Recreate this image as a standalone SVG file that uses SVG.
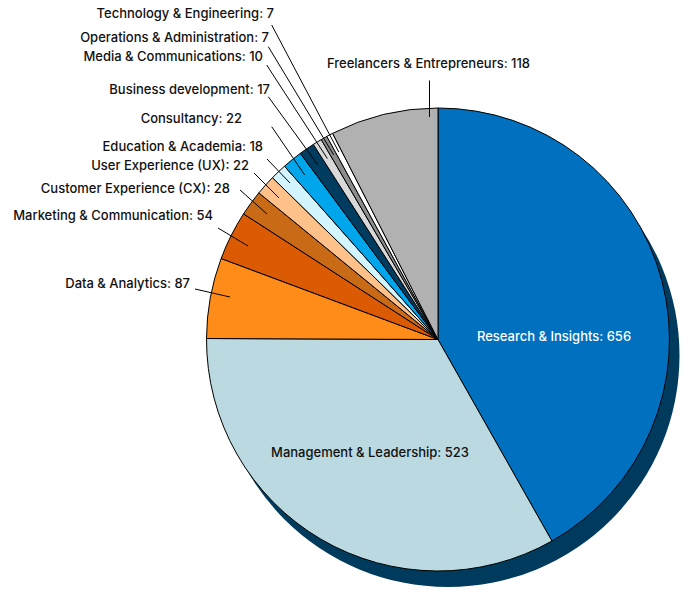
<svg xmlns="http://www.w3.org/2000/svg" width="689" height="589" viewBox="0 0 689 589">
<style>
.s{stroke:#000;stroke-width:1;stroke-linejoin:round}
.t{font-family:Inter,"Liberation Sans",sans-serif;font-size:13px;font-weight:500;fill:#111}
.e{text-anchor:end}
.m{text-anchor:middle}
.l{stroke:#000;stroke-width:1;fill:none}
</style>
<rect width="689" height="589" fill="#fff"/>
<circle id="shadow" cx="448" cy="355.5" r="231.5" fill="#003A5C"/>
<g id="slices">
<g id="research"><path class="s" fill="#0070BF" d="M438,339.5 L438,108 A231.5,231.5 0 0,1 551.93,541.02 Z"/></g>
<g id="management"><path class="s" fill="#BAD9E1" d="M438,339.5 L551.93,541.02 A231.5,231.5 0 0,1 206.51,338.5 Z"/></g>
<g id="data"><path class="s" fill="#FF8C19" d="M438,339.5 L206.51,338.5 A231.5,231.5 0 0,1 221.12,258.51 Z"/></g>
<g id="marketing"><path class="s" fill="#DB5A04" d="M438,339.5 L221.12,258.51 A231.5,231.5 0 0,1 243.55,213.87 Z"/></g>
<g id="cx"><path class="s" fill="#C96A17" d="M438,339.5 L243.55,213.87 A231.5,231.5 0 0,1 258.84,192.90 Z"/></g>
<g id="ux"><path class="s" fill="#FFC18A" d="M438,339.5 L258.84,192.90 A231.5,231.5 0 0,1 272.44,177.69 Z"/></g>
<g id="education"><path class="s" fill="#D3F5FD" d="M438,339.5 L272.44,177.69 A231.5,231.5 0 0,1 284.47,166.23 Z"/></g>
<g id="consultancy"><path class="s" fill="#00A6EC" d="M438,339.5 L284.47,166.23 A231.5,231.5 0 0,1 300.36,153.36 Z"/></g>
<g id="business"><path class="s" fill="#003B60" d="M438,339.5 L300.36,153.36 A231.5,231.5 0 0,1 313.34,144.43 Z"/></g>
<g id="media"><path class="s" fill="#D9D9D9" d="M438,339.5 L313.34,144.43 A231.5,231.5 0 0,1 321.25,139.60 Z"/></g>
<g id="operations"><path class="s" fill="#8C8C8C" d="M438,339.5 L321.25,139.60 A231.5,231.5 0 0,1 326.89,136.41 Z"/></g>
<g id="technology"><path class="s" fill="#FFFFFF" d="M438,339.5 L326.89,136.41 A231.5,231.5 0 0,1 332.62,133.37 Z"/></g>
<g id="freelancers"><path class="s" fill="#B1B1B1" d="M438,339.5 L332.62,133.37 A231.5,231.5 0 0,1 438,108 Z"/></g>
</g>
<g id="connectors">
<line class="l" x1="195" y1="289" x2="230" y2="297"/>
<line class="l" x1="218" y1="228" x2="248" y2="246"/>
<line class="l" x1="240" y1="190" x2="267" y2="214"/>
<line class="l" x1="254" y1="173" x2="279" y2="198"/>
<line class="l" x1="267" y1="159" x2="290" y2="183"/>
<line class="l" x1="271.7" y1="126.7" x2="304.6" y2="174.8"/>
<line class="l" x1="268.3" y1="96.7" x2="317.8" y2="164.8"/>
<line class="l" x1="266.7" y1="65" x2="327.4" y2="158.6"/>
<line class="l" x1="268.3" y1="46.7" x2="333.7" y2="154.9"/>
<line class="l" x1="271.7" y1="25" x2="338.8" y2="152.1"/>
<line class="l" x1="429.5" y1="80.5" x2="429.5" y2="117"/>
</g>
<g id="labels">
<text class="t e" x="274" y="18">Technology &amp; Engineering: 7</text>
<text class="t e" x="269" y="42">Operations &amp; Administration: 7</text>
<text class="t e" x="263" y="61">Media &amp; Communications: 10</text>
<text class="t e" x="270" y="94">Business development: 17</text>
<text class="t e" x="242" y="123">Consultancy: 22</text>
<text class="t e" x="263" y="151">Education &amp; Academia: 18</text>
<text class="t e" x="249" y="169.5">User Experience (UX): 22</text>
<text class="t e" x="230" y="193">Customer Experience (CX): 28</text>
<text class="t e" x="213" y="219.5">Marketing &amp; Communication: 54</text>
<text class="t e" x="190" y="288">Data &amp; Analytics: 87</text>
<text class="t m" x="428.5" y="68">Freelancers &amp; Entrepreneurs: 118</text>
<text class="t m" x="554" y="341" style="fill:#fff">Research &amp; Insights: 656</text>
<text class="t m" x="370" y="457">Management &amp; Leadership: 523</text>
</g>
</svg>
